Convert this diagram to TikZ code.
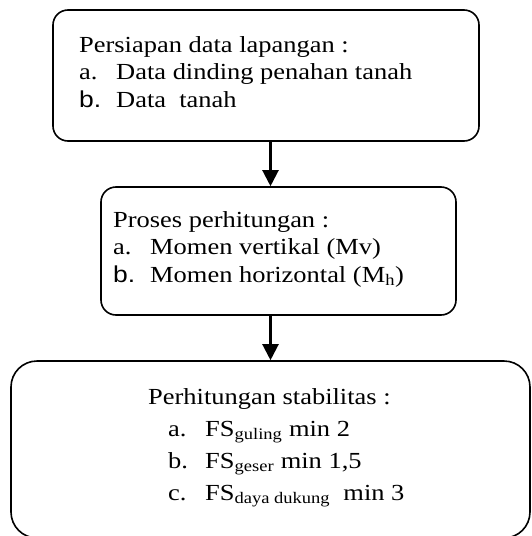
\documentclass[tikz,border=0pt]{standalone}
\usepackage{fontspec}
\setmainfont{Liberation Serif}[FakeStretch=1.15]
\newfontfamily\arialfont{Liberation Sans}[FakeStretch=1.15]
\usetikzlibrary{arrows.meta}
\newcommand\itemlbl[1]{\makebox[37pt][l]{#1}}
\begin{document}
\begin{tikzpicture}[x=1pt,y=-1pt,
  box/.style={draw,line width=1.6pt,rounded corners=15pt,inner sep=0pt},
  txt/.style={anchor=base west,inner sep=0pt,font=\fontsize{23}{27.5}\selectfont},
  arr/.style={line width=2.2pt,-{Triangle[length=16pt,width=16pt]}}]
\useasboundingbox (0,0) rectangle (531,536);
\node[box,minimum width=426pt,minimum height=131pt] (persiapan) at (266,75.5) {};
\node[box,minimum width=355pt,minimum height=128pt] (proses) at (278.5,251) {};
\node[box,rounded corners=26pt,minimum width=519pt,minimum height=177pt] (stabilitas) at (270.5,449.5) {};
\node[txt] (persiapantxt) at (79,52) {\begin{tabular}[t]{@{}l@{}}
Persiapan data lapangan :\\
\itemlbl{a.}Data dinding penahan tanah\\
\itemlbl{\arialfont b.}Data\ \ tanah
\end{tabular}};
\node[txt] (prosestxt) at (113,227) {\begin{tabular}[t]{@{}l@{}}
Proses perhitungan :\\
\itemlbl{a.}Momen vertikal (Mv)\\
\itemlbl{\arialfont b.}Momen horizontal (M\textsubscript{h})
\end{tabular}};
\node[txt,font=\fontsize{23}{32}\selectfont] (stabilitastxt) at (148,404) {\begin{tabular}[t]{@{}l@{}}
Perhitungan stabilitas :\\
\hspace*{20pt}\itemlbl{a.}FS\textsubscript{guling} min 2\\
\hspace*{20pt}\itemlbl{b.}FS\textsubscript{geser} min 1,5\\
\hspace*{20pt}\itemlbl{c.}FS\textsubscript{daya dukung}\ \ min 3
\end{tabular}};
\draw[arr] (persiapan.south -| stabilitas.north) -- (proses.north -| stabilitas.north);
\draw[arr] (proses.south -| stabilitas.north) -- (stabilitas.north);
\end{tikzpicture}
\end{document}
